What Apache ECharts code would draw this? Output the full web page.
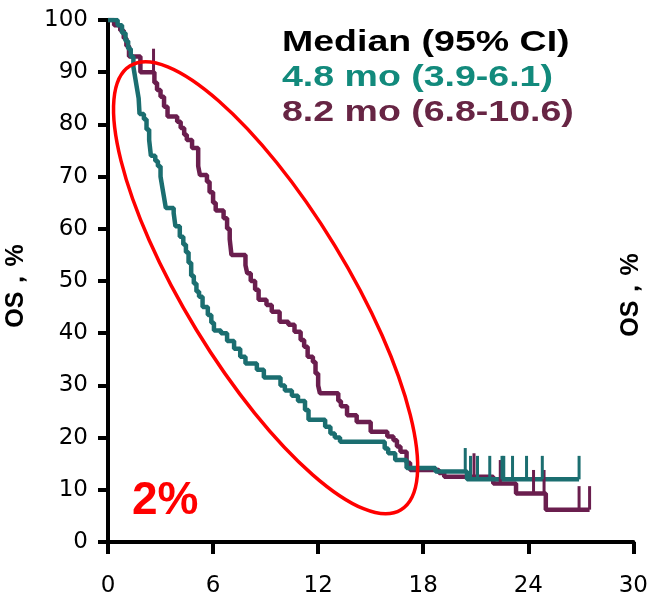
<!DOCTYPE html>
<html>
<head>
<meta charset="utf-8">
<script src="https://cdn.jsdelivr.net/npm/echarts@6/dist/echarts.min.js"></script>
<style>html,body{margin:0;padding:0;background:#fff}#c{width:651px;height:600px}</style>
</head>
<body>
<div id="c"></div>
<script>
// ---- data ----
var xTicks = [0, 6, 12, 18, 24, 30];
var yTicks = [0, 10, 20, 30, 40, 50, 60, 70, 80, 90, 100];
// Teal arm: [month, OS %] (step curve points)
var tealCurve = [
  [0,100],[0.55,99],[0.8,97.5],[1.0,96],[1.15,94.5],[1.3,93],[1.45,91],[1.55,89],[1.65,87],[1.75,85],
  [1.8,82],[2.05,81],[2.2,79],[2.35,77],[2.45,74],[2.7,73],[2.85,72],[3.0,70],[3.1,68],[3.2,66],
  [3.3,64],[3.75,63],[3.85,60.5],[4.1,58.5],[4.3,57],[4.45,55.5],[4.6,53.5],[4.75,51],[4.9,49.5],[5.05,48],
  [5.2,47],[5.4,45],[5.7,43.5],[5.9,42],[6.05,40.5],[6.45,40],[6.8,38.5],[7.2,37],[7.55,35.5],[7.85,34.2],
  [8.5,33],[8.9,31.5],[9.85,30],[10.1,29],[10.5,28],[10.85,27],[11.25,25.3],[11.45,23.4],[12.4,22.1],[12.7,20.8],
  [12.95,20],[13.25,19.2],[15.8,17.9],[16.0,17],[16.4,15.7],[17.05,14.2],[18.7,13.5],[20.5,12],[26.9,12]
];
// Purple arm
var purpleCurve = [
  [0,100],[0.35,99],[0.7,98],[0.9,96.5],[1.05,95],[1.2,93],[1.85,90],[2.65,88],[2.8,86.6],[3.0,85.3],
  [3.2,83.4],[3.4,81.5],[3.95,80.5],[4.15,79.3],[4.35,78],[4.5,77],[4.8,75.5],[5.15,72],[5.25,70.3],[5.65,69],
  [5.8,67],[6.0,65],[6.15,63.5],[6.6,62],[6.8,60],[6.95,58],[7.05,55],[7.85,53],[7.95,51.5],[8.15,50],
  [8.4,48.3],[8.6,46.4],[9.05,45.4],[9.35,44.1],[9.8,42.2],[10.3,41.6],[10.65,40.3],[11.0,38.7],[11.2,37.4],[11.4,35.5],
  [11.7,34.5],[11.85,32.3],[12.0,30],[12.1,28.5],[13.15,27],[13.3,26],[13.65,24.3],[14.2,23],[15.0,21.1],[15.95,20.2],
  [16.3,19.5],[16.5,18.3],[16.7,17.3],[17.05,15.2],[17.25,13.8],[18.9,13.2],[19.2,12.5],[22.0,11.2],[23.3,9.3],[25.0,6.2],
  [27.5,6.2]
];
// Censoring marks
var tealCensor = [[20.4,13.5],[20.7,12],[21.1,12],[21.8,12],[22.5,12],[22.6,12],[23.1,12],[23.9,12],[24.8,12],[26.9,12]];
var purpleCensor = [[2.6,90],[20.9,12.5],[22.4,11.2],[24.3,9.3],[24.9,9.3],[26.9,6.2],[27.5,6.2]];
var titleText = 'Median (95% CI)';
var tealText = '4.8 mo (3.9-6.1)';
var purpleText = '8.2 mo (6.8-10.6)';
var yName = 'OS，%';
var noteText = '2%';

var TEAL = '#1b6e70', PURPLE = '#6a1e4e';
var TEAL_T = '#128a7c', PURPLE_T = '#672544';
var FONT = 'Liberation Sans';
var AXFONT = 'DejaVu Sans';

function censorSeries(data, color) {
  return {
    type: 'custom', data: data, z: 5,
    renderItem: function (params, api) {
      var p0 = api.coord([api.value(0), api.value(1)]);
      var p1 = api.coord([api.value(0), api.value(1) + 4.5]);
      return { type: 'line', shape: { x1: p0[0], y1: p0[1], x2: p1[0], y2: p1[1] },
        style: { stroke: color, lineWidth: 3 } };
    }
  };
}

var chart = echarts.init(document.getElementById('c'), null, { renderer: 'canvas' });
chart.setOption({
  animation: false,
  backgroundColor: '#fff',
  grid: { left: 108, right: 14, top: 20, bottom: 58, containLabel: false },
  xAxis: {
    type: 'value', min: xTicks[0], max: xTicks[xTicks.length - 1], interval: 6,
    axisLine: { lineStyle: { color: '#000', width: 4 } },
    axisTick: { length: 12, lineStyle: { color: '#000', width: 4 } },
    axisLabel: { margin: 33, fontSize: 23, color: '#000', fontFamily: AXFONT },
    splitLine: { show: false }
  },
  yAxis: {
    type: 'value', min: yTicks[0], max: yTicks[yTicks.length - 1], interval: 10,
    axisLine: { show: true, lineStyle: { color: '#000', width: 4 } },
    axisTick: { show: true, length: 10, lineStyle: { color: '#000', width: 4 } },
    axisLabel: { margin: 20, fontSize: 23, color: '#000', fontFamily: AXFONT },
    splitLine: { show: false }
  },
  series: [
    { type: 'line', data: purpleCurve, step: 'end', showSymbol: false, z: 3,
      lineStyle: { color: PURPLE, width: 4.5 } },
    { type: 'line', data: tealCurve, step: 'end', showSymbol: false, z: 4,
      lineStyle: { color: TEAL, width: 4.5 } },
    censorSeries(purpleCensor, PURPLE),
    censorSeries(tealCensor, TEAL)
  ]
});

var ec = chart.convertToPixel({ gridIndex: 0 }, [9.0, 48.7]);
function txt(x, y, text, size, color, sx) {
  return { type: 'text', x: x, y: y, scaleX: sx || 1, z: 11,
    style: { text: text, fontFamily: FONT, fontWeight: 'bold', fontSize: size, fill: color,
      align: 'left', verticalAlign: 'top' } };
}
chart.setOption({
  graphic: [
    { type: 'ellipse', x: ec[0], y: ec[1], rotation: -1.023, z: 10,
      shape: { cx: 0, cy: 0, rx: 260, ry: 81 },
      style: { fill: 'none', stroke: '#ff0000', lineWidth: 3.5 } },
    txt(282, 28, titleText, 30, '#000', 1.25),
    txt(282, 63, tealText, 30, TEAL_T, 1.25),
    txt(282, 98, purpleText, 30, PURPLE_T, 1.25),
    txt(132, 478, noteText, 46, '#ff0000', 1),
    { type: 'text', x: 16, y: 286, rotation: Math.PI / 2, z: 11,
      style: { text: yName, fontFamily: FONT, fontWeight: 'bold', fontSize: 25, fill: '#000',
        align: 'center', verticalAlign: 'middle' } },
    { type: 'text', x: 631, y: 295, rotation: Math.PI / 2, z: 11,
      style: { text: yName, fontFamily: FONT, fontWeight: 'bold', fontSize: 25, fill: '#000',
        align: 'center', verticalAlign: 'middle' } }
  ]
});
</script>
</body>
</html>
